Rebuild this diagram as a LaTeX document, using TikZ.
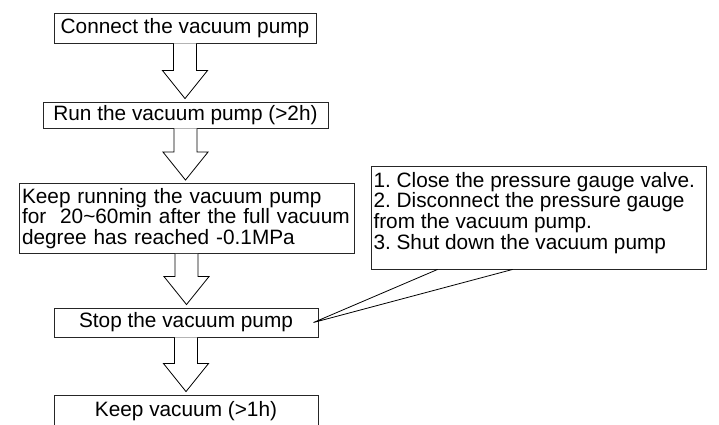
\documentclass[tikz,border=0pt]{standalone}
\usepackage{fontspec}
\setmainfont{Liberation Sans}
\usepackage{tikz}
\usetikzlibrary{calc,positioning}
\frenchspacing

\newcommand{\hollowdown}[2]{%
  \draw[fill=white,line width=0.8pt] let \p1=(#1.south), \p2=(#2.north) in
    (\x1-11.5pt,\y1) -- (\x1-11.5pt,\y2+31pt) -- (\x1-22.5pt,\y2+31pt)
    -- (\x1,\y2+3pt) -- (\x1+22.5pt,\y2+31pt) -- (\x1+11.5pt,\y2+31pt)
    -- (\x1+11.5pt,\y1);}

\begin{document}
\begin{tikzpicture}[x=1pt,y=-1pt]
  \tikzstyle{stage}=[rectangle,draw=black!85,line width=0.9pt,fill=white,inner sep=0pt,align=center,font=\fontsize{20.8}{20.5}\selectfont]
  \tikzstyle{memo}=[stage,align=left,inner xsep=3pt]
  \useasboundingbox (0,0) rectangle (719,424);

  \node[stage,minimum width=262,minimum height=30] (connect) at (185,28) {Connect the vacuum pump};
  \node[stage,minimum width=285,minimum height=26] (run) at (185.5,115) {Run the vacuum pump (>2h)};
  \node[memo,text width=329,minimum height=70] (keeprun) at (186.5,218.5)
    {Keep running the vacuum pump\\for\ \ 20\textasciitilde60min after the full vacuum\\degree has reached -0.1MPa};
  \node[stage,minimum width=264,minimum height=29] (stop) at (186,322.5) {Stop the vacuum pump};
  \node[stage,minimum width=264,minimum height=32] (hold) at (186,411) {Keep vacuum (>1h)};

  \node[stage,inner xsep=2.5pt,inner ysep=4pt] (steps) at (538.5,217.5)
    {\parbox[c][95pt][t]{330pt}{\fontsize{20.8}{20.8}\selectfont\raggedright
      \rule{0pt}{17pt}1. Close the pressure gauge valve.\\2. Disconnect the pressure gauge\\from the vacuum pump.\\3. Shut down the vacuum pump}};

  \hollowdown{connect}{run}
  \hollowdown{run}{keeprun}
  \hollowdown{keeprun}{stop}
  \hollowdown{stop}{hold}

  % callout pointer
  \coordinate (tip) at ($(stop.east)+(-5,0)$);
  \coordinate (lega) at ($(steps.south west)+(67,0)$);
  \coordinate (legb) at ($(steps.south west)+(142,0)$);
  \draw[line width=0.8pt] (lega) -- (tip) -- (legb);
\end{tikzpicture}
\end{document}
